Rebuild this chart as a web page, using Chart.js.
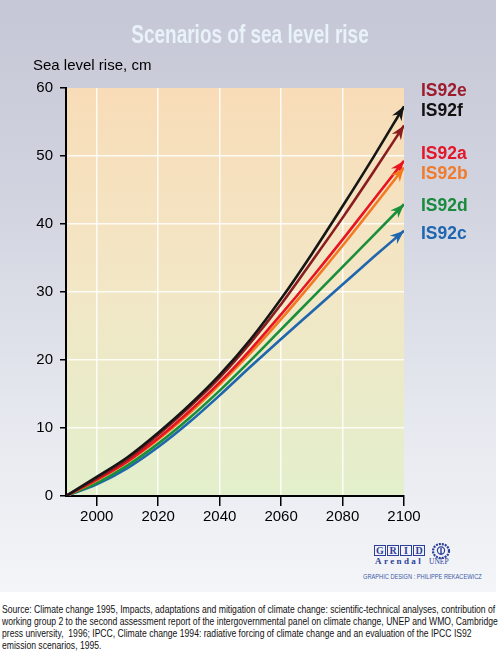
<!DOCTYPE html>
<html>
<head>
<meta charset="utf-8">
<script src="https://cdn.jsdelivr.net/npm/chart.js@4"></script>
<style>
  html, body { margin: 0; padding: 0; background: #fff; }
  body { width: 500px; height: 653px; position: relative; overflow: hidden;
         font-family: "Liberation Sans", Arial, Helvetica, sans-serif; }
  #panel { position: absolute; left: 0; top: 0; width: 496px; height: 592px;
           background: linear-gradient(to bottom, #c5c7d6 0%, #d2d4e0 35%, #e6e8ef 70%, #f4f5f8 100%); }
  #chart { position: absolute; left: 0; top: 0; }
  .txt { position: absolute; white-space: nowrap; }
  #title { left: 0; width: 500px; text-align: center; top: 21px; font-size: 26px; line-height: 26px;
           font-weight: bold; color: #e9f1f9; transform: scaleX(0.73); }
  #ytitle { left: 33px; top: 57px; font-size: 15px; line-height: 15px; color: #000; }
  .lbl { left: 421px; font-size: 17.5px; line-height: 17.5px; font-weight: bold; }
  #grid { position: absolute; left: 374px; top: 545px; display: flex; gap: 1px; }
  #grid span { box-sizing: border-box; width: 12px; height: 11px; border: 1px solid #2c3f98;
               font-family: "Liberation Serif", "DejaVu Serif", serif; font-weight: bold; font-size: 10px;
               line-height: 9px; text-align: center; color: #2c3f98; background: #f2f3f8; }
  #arendal { left: 375px; top: 557px; font-family: "Liberation Serif", serif; font-weight: bold; font-size: 9px;
             line-height: 9px; letter-spacing: 2.4px; color: #2c3f98; }
  #unep { left: 429px; top: 558px; font-family: "Liberation Serif", serif; font-size: 7.5px; line-height: 8px; color: #2c3f98; }
  #design { left: 363px; top: 573px; font-size: 7px; line-height: 7px; color: #3a5aa8; transform-origin: left top; }
  #source { left: 2px; top: 604px; font-size: 11px; line-height: 11.9px; color: #111; transform-origin: left top; }
</style>
</head>
<body>
<div id="panel"></div>
<canvas id="chart" width="500" height="540"></canvas>
<div class="txt" id="title">Scenarios of sea level rise</div>
<div class="txt" id="ytitle">Sea level rise, cm</div>
<div id="labels"></div>
<div id="grid"><span>G</span><span>R</span><span>I</span><span>D</span></div>
<div class="txt" id="arendal">Arendal</div>
<svg style="position:absolute;left:431px;top:543px" width="20" height="16" viewBox="0 0 20 16">
  <ellipse cx="10" cy="8" rx="8" ry="7" fill="none" stroke="#2c3f98" stroke-width="2.2" stroke-dasharray="2 1"/>
  <circle cx="10" cy="7.5" r="3.6" fill="none" stroke="#2c3f98" stroke-width="1.2"/>
  <path d="M10 5 L10 12" stroke="#2c3f98" stroke-width="1.4"/>
</svg>
<div class="txt" id="unep">UNEP</div>
<div class="txt" id="design">GRAPHIC DESIGN : PHILIPPE REKACEWICZ</div>
<div class="txt" id="source">Source: Climate change 1995, Impacts, adaptations and mitigation of climate change: scientific-technical analyses, contribution of<br>working group 2 to the second assessment report of the intergovernmental panel on climate change, UNEP and WMO, Cambridge<br>press university,&nbsp; 1996; IPCC, Climate change 1994: radiative forcing of climate change and an evaluation of the IPCC IS92<br>emission scenarios, 1995.</div>

<script>
// ------------------------------------------------------------
// Data (sea level rise in cm)
// ------------------------------------------------------------
const YEARS = [1990, 2000, 2010, 2020, 2030, 2040, 2050, 2060, 2070, 2080, 2090, 2100];

const IS92F = [0, 2.8, 5.7, 9.3, 13.3, 17.8, 23.0, 29.0, 35.6, 42.6, 49.8, 57.3];
const IS92E = [0, 2.6, 5.4, 9.0, 13.0, 17.4, 22.5, 28.2, 34.5, 40.9, 47.6, 54.5];
const IS92A = [0, 2.4, 5.1, 8.5, 12.4, 16.7, 21.5, 26.7, 32.1, 37.7, 43.5, 49.3];
const IS92B = [0, 2.3, 5.0, 8.3, 12.1, 16.4, 21.0, 26.0, 31.3, 36.8, 42.5, 48.3];
const IS92D = [0, 1.9, 4.5, 7.7, 11.4, 15.5, 19.9, 24.5, 29.1, 33.7, 38.3, 42.9];
const IS92C = [0, 1.7, 4.1, 7.2, 10.8, 14.8, 19.0, 23.1, 27.1, 31.1, 35.1, 39.0];

const X_TICKS = [2000, 2020, 2040, 2060, 2080, 2100];
const Y_TICKS = [0, 10, 20, 30, 40, 50, 60];

// One entry per scenario: name, values, line colour, label colour
const SERIES = [
  { name: "IS92f", values: IS92F, color: "#161616", text: "#111111" },
  { name: "IS92e", values: IS92E, color: "#8a1c1f", text: "#9c1c2e" },
  { name: "IS92a", values: IS92A, color: "#e8141f", text: "#e3172a" },
  { name: "IS92b", values: IS92B, color: "#f47a22", text: "#f07b2c" },
  { name: "IS92d", values: IS92D, color: "#1b8e3b", text: "#1a8a3d" },
  { name: "IS92c", values: IS92C, color: "#1f66ae", text: "#1f66b0" },
];

// Where each right-hand label sits (top of the text box, px)
const LABEL_TOPS = { IS92e: 82, IS92f: 102, IS92a: 145, IS92b: 165, IS92d: 197, IS92c: 225 };
const LABEL_ORDER = ["IS92e", "IS92f", "IS92a", "IS92b", "IS92d", "IS92c"];

// ------------------------------------------------------------
// Plugins: gradient behind the plot, arrow heads at line ends
// ------------------------------------------------------------
const plotBackground = {
  id: "plotBackground",
  beforeDraw(chart) {
    const { ctx, chartArea: a } = chart;
    const g = ctx.createLinearGradient(0, a.top, 0, a.bottom);
    g.addColorStop(0, "#f8dcb7");
    g.addColorStop(0.45, "#f3e6c5");
    g.addColorStop(1, "#e3efcc");
    ctx.save();
    ctx.fillStyle = g;
    ctx.fillRect(a.left, a.top, a.right - a.left, a.bottom - a.top);
    ctx.restore();
  },
};

const arrowHeads = {
  id: "arrowHeads",
  afterDatasetsDraw(chart) {
    const ctx = chart.ctx;
    chart.data.datasets.forEach((ds, i) => {
      const pts = chart.getDatasetMeta(i).data;
      const end = pts[pts.length - 1];
      const prev = pts[pts.length - 2];
      // direction of the curve at its end (control point if there is one)
      const fx = end.cp1x !== undefined ? end.cp1x : prev.x;
      const fy = end.cp1y !== undefined ? end.cp1y : prev.y;
      const ang = Math.atan2(end.y - fy, end.x - fx);
      const len = 14, half = 5.5;
      ctx.save();
      ctx.translate(end.x, end.y);
      ctx.rotate(ang);
      ctx.beginPath();
      ctx.moveTo(0, 0);
      ctx.lineTo(-len, -half);
      ctx.lineTo(-len * 0.68, 0);
      ctx.lineTo(-len, half);
      ctx.closePath();
      ctx.fillStyle = ds.borderColor;
      ctx.fill();
      ctx.restore();
    });
  },
};

// ------------------------------------------------------------
// Chart
// ------------------------------------------------------------
const datasets = SERIES.map(s => ({
  label: s.name,
  data: YEARS.map((y, i) => ({ x: y, y: s.values[i] })),
  borderColor: s.color,
  borderWidth: 2.6,
  pointRadius: 0,
  cubicInterpolationMode: "monotone",
  fill: false,
}));

const tickFont = { family: "'Liberation Sans', Arial, sans-serif", size: 15 };

new Chart(document.getElementById("chart"), {
  type: "line",
  data: { datasets },
  options: {
    responsive: false,
    animation: false,
    layout: { padding: { top: 88, right: 96, left: 0, bottom: 0 } },
    plugins: { legend: { display: false }, tooltip: { enabled: false } },
    scales: {
      x: {
        type: "linear",
        min: 1990,
        max: 2100,
        afterBuildTicks: scale => { scale.ticks = X_TICKS.map(v => ({ value: v })); },
        afterFit: scale => { scale.height = 44; },
        ticks: { font: tickFont, color: "#000", padding: 2, maxRotation: 0, callback: v => String(v) },
        grid: {
          color: c => (c.tick && c.tick.value === 2100 ? "rgba(0,0,0,0)" : "rgba(255,255,255,0.85)"),
          lineWidth: 1.5,
          tickColor: "#000",
          tickLength: 10,
          tickWidth: 1.5,
        },
        border: { display: true, color: "#000", width: 2 },
      },
      y: {
        min: 0,
        max: 60,
        afterBuildTicks: scale => { scale.ticks = Y_TICKS.map(v => ({ value: v })); },
        afterFit: scale => { scale.width = 66; },
        ticks: { font: tickFont, color: "#000", padding: 7 },
        grid: {
          color: c => (c.tick && (c.tick.value === 0 || c.tick.value === 60) ? "rgba(0,0,0,0)" : "rgba(255,255,255,0.85)"),
          lineWidth: 1.5,
          tickColor: "#000",
          tickLength: 6,
          tickWidth: 1.5,
        },
        border: { display: true, color: "#000", width: 2 },
      },
    },
  },
  plugins: [plotBackground, arrowHeads],
});

// Right-hand scenario labels
const labelBox = document.getElementById("labels");
for (const name of LABEL_ORDER) {
  const s = SERIES.find(d => d.name === name);
  const el = document.createElement("div");
  el.className = "txt lbl";
  el.textContent = name;
  el.style.top = LABEL_TOPS[name] + "px";
  el.style.color = s.text;
  labelBox.appendChild(el);
}

// Squeeze small texts horizontally to the widths they have in the picture
function fitWidth(id, target) {
  const el = document.getElementById(id);
  el.style.transform = `scaleX(${target / el.offsetWidth})`;
}
fitWidth("source", 496);
fitWidth("design", 119);
</script>
</body>
</html>
